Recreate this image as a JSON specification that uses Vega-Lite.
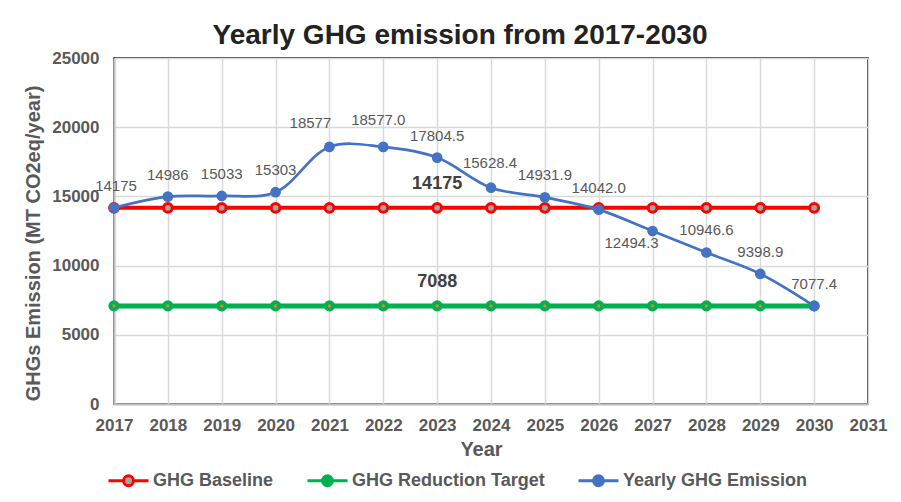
{
  "$schema": "https://vega.github.io/schema/vega-lite/v6.json",
  "width": 754,
  "height": 346,
  "autosize": {"type": "none"},
  "padding": {"left": 114, "top": 58, "right": 33, "bottom": 98},
  "background": "white",
  "config": {
    "font": "Liberation Sans",
    "view": {"stroke": "#000000", "strokeWidth": 1.5},
    "axis": {
      "labelFont": "Liberation Sans",
      "labelFontSize": 17,
      "labelFontWeight": "bold",
      "labelColor": "#595959",
      "titleFont": "Liberation Sans",
      "titleFontSize": 20,
      "titleFontWeight": "bold",
      "titleColor": "#595959",
      "gridColor": "#d9d9d9",
      "gridWidth": 1.5,
      "domainColor": "#bfbfbf",
      "domainWidth": 2,
      "ticks": false
    }
  },
  "title": {
    "text": "Yearly GHG emission from 2017-2030",
    "font": "Liberation Sans",
    "fontSize": 28,
    "fontWeight": "bold",
    "color": "#222222",
    "anchor": "middle",
    "frame": "group",
    "offset": -1,
    "dx": -31
  },
  "data": {
    "values": [
      {"year": 2017, "series": "GHG Baseline", "value": 14175, "label": "14175"},
      {"year": 2018, "series": "GHG Baseline", "value": 14175, "label": "14175"},
      {"year": 2019, "series": "GHG Baseline", "value": 14175, "label": "14175"},
      {"year": 2020, "series": "GHG Baseline", "value": 14175, "label": "14175"},
      {"year": 2021, "series": "GHG Baseline", "value": 14175, "label": "14175"},
      {"year": 2022, "series": "GHG Baseline", "value": 14175, "label": "14175"},
      {"year": 2023, "series": "GHG Baseline", "value": 14175, "label": "14175"},
      {"year": 2024, "series": "GHG Baseline", "value": 14175, "label": "14175"},
      {"year": 2025, "series": "GHG Baseline", "value": 14175, "label": "14175"},
      {"year": 2026, "series": "GHG Baseline", "value": 14175, "label": "14175"},
      {"year": 2027, "series": "GHG Baseline", "value": 14175, "label": "14175"},
      {"year": 2028, "series": "GHG Baseline", "value": 14175, "label": "14175"},
      {"year": 2029, "series": "GHG Baseline", "value": 14175, "label": "14175"},
      {"year": 2030, "series": "GHG Baseline", "value": 14175, "label": "14175"},
      {"year": 2017, "series": "GHG Reduction Target", "value": 7088, "label": "7088"},
      {"year": 2018, "series": "GHG Reduction Target", "value": 7088, "label": "7088"},
      {"year": 2019, "series": "GHG Reduction Target", "value": 7088, "label": "7088"},
      {"year": 2020, "series": "GHG Reduction Target", "value": 7088, "label": "7088"},
      {"year": 2021, "series": "GHG Reduction Target", "value": 7088, "label": "7088"},
      {"year": 2022, "series": "GHG Reduction Target", "value": 7088, "label": "7088"},
      {"year": 2023, "series": "GHG Reduction Target", "value": 7088, "label": "7088"},
      {"year": 2024, "series": "GHG Reduction Target", "value": 7088, "label": "7088"},
      {"year": 2025, "series": "GHG Reduction Target", "value": 7088, "label": "7088"},
      {"year": 2026, "series": "GHG Reduction Target", "value": 7088, "label": "7088"},
      {"year": 2027, "series": "GHG Reduction Target", "value": 7088, "label": "7088"},
      {"year": 2028, "series": "GHG Reduction Target", "value": 7088, "label": "7088"},
      {"year": 2029, "series": "GHG Reduction Target", "value": 7088, "label": "7088"},
      {"year": 2030, "series": "GHG Reduction Target", "value": 7088, "label": "7088"},
      {"year": 2017, "series": "Yearly GHG Emission", "value": 14175, "label": "14175"},
      {"year": 2018, "series": "Yearly GHG Emission", "value": 14986, "label": "14986"},
      {"year": 2019, "series": "Yearly GHG Emission", "value": 15033, "label": "15033"},
      {"year": 2020, "series": "Yearly GHG Emission", "value": 15303, "label": "15303"},
      {"year": 2021, "series": "Yearly GHG Emission", "value": 18577, "label": "18577"},
      {"year": 2022, "series": "Yearly GHG Emission", "value": 18577.0, "label": "18577.0"},
      {"year": 2023, "series": "Yearly GHG Emission", "value": 17804.5, "label": "17804.5"},
      {"year": 2024, "series": "Yearly GHG Emission", "value": 15628.4, "label": "15628.4"},
      {"year": 2025, "series": "Yearly GHG Emission", "value": 14931.9, "label": "14931.9"},
      {"year": 2026, "series": "Yearly GHG Emission", "value": 14042.0, "label": "14042.0"},
      {"year": 2027, "series": "Yearly GHG Emission", "value": 12494.3, "label": "12494.3"},
      {"year": 2028, "series": "Yearly GHG Emission", "value": 10946.6, "label": "10946.6"},
      {"year": 2029, "series": "Yearly GHG Emission", "value": 9398.9, "label": "9398.9"},
      {"year": 2030, "series": "Yearly GHG Emission", "value": 7077.4, "label": "7077.4"}
    ]
  },
  "encoding": {
    "x": {
      "field": "year",
      "type": "quantitative",
      "scale": {"domain": [2017, 2031], "nice": false, "zero": false},
      "axis": {
        "title": "Year",
        "values": [2017, 2018, 2019, 2020, 2021, 2022, 2023, 2024, 2025, 2026, 2027, 2028, 2029, 2030, 2031],
        "format": "d",
        "labelPadding": 13,
        "titlePadding": 6,
        "titleX": 367,
        "labelFlush": false,
        "labelOverlap": false
      }
    },
    "y": {
      "field": "value",
      "type": "quantitative",
      "scale": {"domain": [0, 25000], "nice": false},
      "axis": {
        "title": "GHGs Emission (MT CO2eq/year)",
        "values": [0, 5000, 10000, 15000, 20000, 25000],
        "format": "d",
        "labelPadding": 15,
        "titlePadding": 8,
        "titleY": 185
      }
    }
  },
  "layer": [
    {
      "transform": [{"filter": "datum.series === 'GHG Baseline'"}],
      "mark": {"type": "line", "strokeWidth": 4},
      "encoding": {
        "color": {
          "field": "series",
          "type": "nominal",
          "scale": {
            "domain": ["GHG Baseline", "GHG Reduction Target", "Yearly GHG Emission"],
            "range": ["#ff0000", "#00b050", "#4472c4"]
          },
          "legend": {
            "title": null,
            "orient": "none",
            "direction": "horizontal",
            "legendX": -7,
            "legendY": 401,
            "symbolType": "M-1,0L-0.25,0M0.25,0L1,0M-0.25,0A0.25,0.25,0,1,1,0.25,0A0.25,0.25,0,1,1,-0.25,0Z",
            "symbolSize": 1600,
            "symbolStrokeWidth": 3,
            "labelFont": "Liberation Sans",
            "labelFontSize": 18,
            "labelFontWeight": "bold",
            "labelColor": "#595959",
            "labelOffset": 3,
            "columnPadding": 27,
            "labelLimit": 400,
            "encode": {
              "symbols": {
                "update": {
                  "fill": {"signal": "datum.value === 'GHG Baseline' ? '#a5a5a5' : datum.value === 'GHG Reduction Target' ? '#00b050' : '#4472c4'"},
                  "fillOpacity": {"value": 1},
                  "stroke": {"signal": "datum.value === 'GHG Baseline' ? '#ff0000' : datum.value === 'GHG Reduction Target' ? '#00b050' : '#4472c4'"},
                  "strokeWidth": {"value": 3},
                  "opacity": {"value": 1}
                }
              }
            }
          }
        }
      }
    },
    {
      "transform": [{"filter": "datum.series === 'GHG Reduction Target'"}],
      "mark": {"type": "line", "strokeWidth": 5},
      "encoding": {
        "color": {"field": "series", "type": "nominal"}
      }
    },
    {
      "transform": [{"filter": "datum.series === 'GHG Baseline'"}],
      "mark": {"type": "point", "shape": "circle", "filled": true, "fill": "#a5a5a5", "stroke": "#ff0000", "strokeWidth": 3, "size": 78, "opacity": 1},
      "encoding": {}
    },
    {
      "transform": [{"filter": "datum.series === 'GHG Reduction Target'"}],
      "mark": {"type": "point", "shape": "circle", "filled": true, "fill": "#00b050", "size": 125, "opacity": 1},
      "encoding": {}
    },
    {
      "transform": [{"filter": "datum.series === 'GHG Reduction Target'"}],
      "mark": {"type": "point", "shape": "circle", "filled": true, "fill": "#ed7d31", "size": 10, "opacity": 1},
      "encoding": {}
    },
    {
      "transform": [{"filter": "datum.series === 'Yearly GHG Emission'"}],
      "mark": {"type": "line", "strokeWidth": 2.7, "interpolate": "catmull-rom"},
      "encoding": {
        "color": {"field": "series", "type": "nominal"}
      }
    },
    {
      "transform": [{"filter": "datum.series === 'Yearly GHG Emission'"}],
      "mark": {"type": "point", "shape": "circle", "filled": true, "fill": "#4472c4", "size": 115, "opacity": 1},
      "encoding": {}
    },
    {
      "transform": [{"filter": "datum.series === 'Yearly GHG Emission' && datum.year !== 2017 && datum.year !== 2021 && datum.year !== 2022 && datum.year !== 2024 && datum.year !== 2027"}],
      "mark": {"type": "text", "font": "Liberation Sans", "fontSize": 15, "color": "#595959", "baseline": "middle", "align": "center", "dy": -22},
      "encoding": {"text": {"field": "label"}}
    },
    {
      "transform": [{"filter": "datum.series === 'Yearly GHG Emission' && datum.year === 2017"}],
      "mark": {"type": "text", "font": "Liberation Sans", "fontSize": 15, "color": "#595959", "baseline": "middle", "align": "center", "dy": -22, "dx": 2},
      "encoding": {"text": {"field": "label"}}
    },
    {
      "transform": [{"filter": "datum.series === 'Yearly GHG Emission' && datum.year === 2021"}],
      "mark": {"type": "text", "font": "Liberation Sans", "fontSize": 15, "color": "#595959", "baseline": "middle", "align": "center", "dy": -24, "dx": -19},
      "encoding": {"text": {"field": "label"}}
    },
    {
      "transform": [{"filter": "datum.series === 'Yearly GHG Emission' && datum.year === 2022"}],
      "mark": {"type": "text", "font": "Liberation Sans", "fontSize": 15, "color": "#595959", "baseline": "middle", "align": "center", "dy": -27, "dx": -5},
      "encoding": {"text": {"field": "label"}}
    },
    {
      "transform": [{"filter": "datum.series === 'Yearly GHG Emission' && datum.year === 2024"}],
      "mark": {"type": "text", "font": "Liberation Sans", "fontSize": 15, "color": "#595959", "baseline": "middle", "align": "center", "dy": -25, "dx": -1},
      "encoding": {"text": {"field": "label"}}
    },
    {
      "transform": [{"filter": "datum.series === 'Yearly GHG Emission' && datum.year === 2027"}],
      "mark": {"type": "text", "font": "Liberation Sans", "fontSize": 15, "color": "#595959", "baseline": "middle", "align": "center", "dy": 12, "dx": -21},
      "encoding": {"text": {"field": "label"}}
    },
    {
      "transform": [{"filter": "datum.series !== 'Yearly GHG Emission' && datum.year === 2023"}],
      "mark": {"type": "text", "font": "Liberation Sans", "fontSize": 18, "fontWeight": "bold", "color": "#404040", "baseline": "middle", "align": "center", "dy": -24},
      "encoding": {"text": {"field": "label"}}
    }
  ]
}
